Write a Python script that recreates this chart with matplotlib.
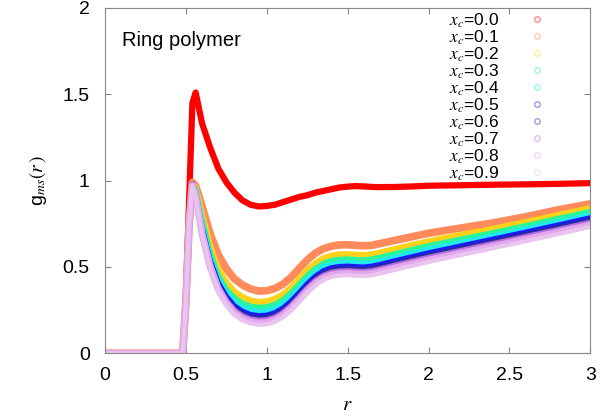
import matplotlib
matplotlib.use("Agg")
import matplotlib.pyplot as plt
from matplotlib.lines import Line2D

plt.rcParams['font.family'] = ['Liberation Sans', 'DejaVu Sans']
plt.rcParams['mathtext.fontset'] = 'stix'

# r grid shared by all curves
r = [0.0, 0.2, 0.4, 0.48, 0.50, 0.52, 0.54, 0.56, 0.60, 0.65, 0.70, 0.75, 0.80,
     0.85, 0.90, 0.95, 1.00, 1.05, 1.10, 1.15, 1.20, 1.25, 1.30, 1.35, 1.40,
     1.45, 1.50, 1.55, 1.60, 1.65, 1.70, 1.80, 1.90, 2.00, 2.20, 2.40, 2.60,
     2.80, 3.00]

g_00 = [0, 0, 0, 0, 0.35, 0.90, 1.45, 1.51, 1.33, 1.19, 1.07, 0.99, 0.93,
        0.885, 0.86, 0.85, 0.853, 0.86, 0.875, 0.89, 0.905, 0.915, 0.93, 0.94, 0.95,
        0.96, 0.965, 0.968, 0.966, 0.963, 0.962, 0.963, 0.966, 0.97, 0.973, 0.976, 0.978,
        0.981, 0.985]
g_01 = [0, 0, 0, 0, 0.30, 0.75, 0.99, 0.97, 0.85, 0.69, 0.57, 0.49, 0.43,
        0.395, 0.372, 0.36, 0.362, 0.375, 0.40, 0.44, 0.49, 0.54, 0.58, 0.605, 0.62,
        0.627, 0.628, 0.625, 0.622, 0.625, 0.635, 0.655, 0.675, 0.695, 0.725, 0.755, 0.79,
        0.83, 0.865]
g_02 = [0, 0, 0, 0, 0.30, 0.75, 0.98, 0.96, 0.80, 0.62, 0.49, 0.41, 0.355,
        0.325, 0.305, 0.297, 0.30, 0.315, 0.34, 0.38, 0.43, 0.48, 0.52, 0.55, 0.565,
        0.572, 0.573, 0.57, 0.568, 0.572, 0.582, 0.605, 0.627, 0.648, 0.685, 0.72, 0.76,
        0.80, 0.84]
g_03 = [0, 0, 0, 0, 0.30, 0.75, 0.98, 0.95, 0.77, 0.58, 0.45, 0.37, 0.32,
        0.29, 0.272, 0.265, 0.268, 0.283, 0.31, 0.35, 0.40, 0.45, 0.49, 0.52, 0.537,
        0.543, 0.545, 0.542, 0.54, 0.545, 0.555, 0.578, 0.60, 0.622, 0.66, 0.698, 0.738,
        0.78, 0.82]
g_04 = [0, 0, 0, 0, 0.30, 0.75, 0.98, 0.94, 0.75, 0.56, 0.43, 0.35, 0.295,
        0.265, 0.248, 0.241, 0.244, 0.258, 0.285, 0.325, 0.375, 0.425, 0.467, 0.498, 0.515,
        0.522, 0.523, 0.52, 0.518, 0.523, 0.533, 0.556, 0.578, 0.60, 0.64, 0.678, 0.718,
        0.76, 0.80]
g_05 = [0, 0, 0, 0, 0.30, 0.75, 0.98, 0.93, 0.73, 0.54, 0.41, 0.33, 0.275,
        0.243, 0.225, 0.218, 0.221, 0.235, 0.262, 0.302, 0.352, 0.403, 0.447, 0.478, 0.496,
        0.503, 0.505, 0.502, 0.50, 0.505, 0.515, 0.538, 0.56, 0.582, 0.622, 0.662, 0.702,
        0.743, 0.785]
g_06 = [0, 0, 0, 0, 0.30, 0.75, 0.98, 0.93, 0.72, 0.53, 0.40, 0.32, 0.265,
        0.233, 0.215, 0.208, 0.211, 0.225, 0.252, 0.292, 0.342, 0.393, 0.437, 0.468, 0.486,
        0.493, 0.495, 0.492, 0.49, 0.495, 0.505, 0.528, 0.55, 0.572, 0.612, 0.652, 0.692,
        0.733, 0.775]
g_07 = [0, 0, 0, 0, 0.30, 0.75, 0.98, 0.92, 0.70, 0.51, 0.38, 0.30, 0.245,
        0.213, 0.195, 0.188, 0.191, 0.205, 0.232, 0.272, 0.322, 0.373, 0.417, 0.448, 0.466,
        0.473, 0.475, 0.472, 0.47, 0.475, 0.485, 0.508, 0.53, 0.552, 0.592, 0.632, 0.672,
        0.713, 0.755]
g_08 = [0, 0, 0, 0, 0.30, 0.75, 0.97, 0.91, 0.69, 0.50, 0.37, 0.29, 0.232,
        0.20, 0.182, 0.175, 0.178, 0.192, 0.219, 0.259, 0.309, 0.36, 0.404, 0.435, 0.453,
        0.46, 0.462, 0.459, 0.457, 0.462, 0.472, 0.495, 0.517, 0.539, 0.579, 0.619, 0.659,
        0.70, 0.742]
g_09 = [0, 0, 0, 0, 0.30, 0.75, 0.97, 0.90, 0.68, 0.49, 0.36, 0.28, 0.222,
        0.19, 0.172, 0.165, 0.168, 0.182, 0.209, 0.249, 0.299, 0.35, 0.394, 0.425, 0.443,
        0.45, 0.452, 0.449, 0.447, 0.452, 0.462, 0.485, 0.507, 0.529, 0.569, 0.609, 0.649,
        0.69, 0.732]

xc_labels = ['0.0', '0.1', '0.2', '0.3', '0.4', '0.5', '0.6', '0.7', '0.8', '0.9']
curves = [g_00, g_01, g_02, g_03, g_04, g_05, g_06, g_07, g_08, g_09]
colors = ['#ff0000', '#ff8a5c', '#ffd21a', '#2af59a', '#22e8f0', '#1c1cf0',
          '#2a2a9a', '#b46ee0', '#e2a8ee', '#e8c4ee']
widths = [4.5, 5.5, 4.5, 4, 4, 3.5, 2, 4.5, 5, 3]

fig = plt.figure(figsize=(6.11, 4.17), dpi=100)
ax = fig.add_axes([0.172, 0.153, 0.794, 0.828])

for g, c, w in zip(curves, colors, widths):
    ax.plot(r, g, color=c, lw=w, solid_capstyle='round', solid_joinstyle='round')

ax.set_xlim(0, 3)
ax.set_ylim(0, 2)
ax.set_xticks([0, 0.5, 1, 1.5, 2, 2.5, 3])
ax.set_xticklabels(['0', '0.5', '1', '1.5', '2', '2.5', '3'])
ax.set_yticks([0, 0.5, 1, 1.5, 2])
ax.set_yticklabels(['0', '0.5', '1', '1.5', '2'])
ax.tick_params(direction='in', top=True, right=True, length=4, color='#888888',
               labelsize=14)
ax.tick_params(axis='x', pad=10)
ax.tick_params(axis='y', pad=11)
for s in ax.spines.values():
    s.set_color('#888888')

ax.set_xlabel('$r$', fontsize=15, labelpad=8)
ax.set_ylabel('g$_{ms}$$(r\\,)$', fontsize=14, labelpad=10)

ax.text(0.035, 0.905, 'Ring polymer', transform=ax.transAxes, fontsize=14.5,
        va='center', ha='left')

handles = [Line2D([], [], ls='none', marker='o', ms=4, mfc='none', mew=1,
                  mec=c, alpha=0.45) for c in colors]
labels = ['$x_c$=' + s for s in xc_labels]
ax.legend(handles, labels, loc='upper right', bbox_to_anchor=(0.93, 1.02),
          frameon=False, markerfirst=False, fontsize=12.5, labelspacing=-0.08,
          handletextpad=1.7, handlelength=1.0, borderaxespad=0.2)

fig.savefig('out.png', dpi=100)
